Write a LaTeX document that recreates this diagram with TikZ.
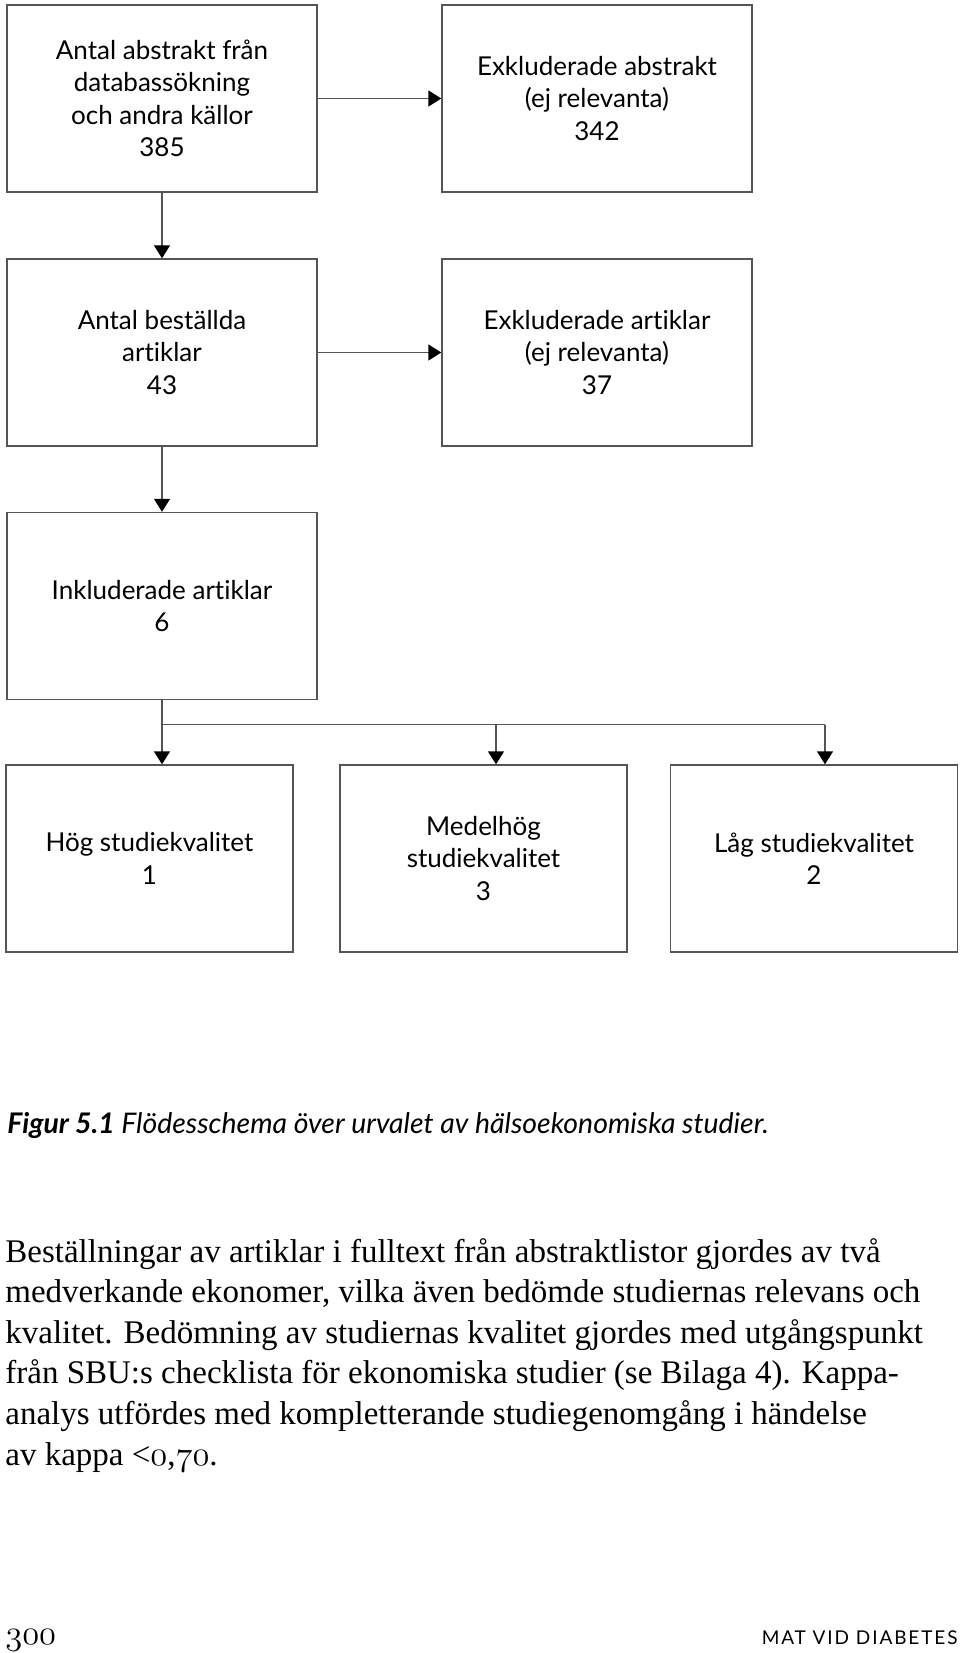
\documentclass[tikz,border=0pt]{standalone}
\usepackage{fontspec}
\setmainfont{Liberation Serif}
\newfontfamily\gillfont{Lato}[Ligatures={TeX,NoCommon}]
\newcommand\osf[1]{{\usefont{OML}{cmm}{m}{it}#1}}
\usetikzlibrary{arrows.meta}
\definecolor{framegray}{HTML}{555555}
\tikzstyle{wire} = [draw=framegray, line width=0.7pt]
\tikzstyle{link} = [wire, -{Triangle[length=6.5pt,width=8pt,color=black]}]

\begin{document}
\begin{tikzpicture}
 [x=0.5pt, y=-0.5pt,
  bigbox/.style={draw=framegray, line width=0.7pt, minimum width=155pt, minimum height=93.5pt,
    align=center, inner sep=0pt, font=\gillfont\fontsize{13}{16.25}\selectfont},
  smallbox/.style={bigbox, minimum width=143.5pt},
  bodyline/.style={anchor=base west, inner sep=0pt, font=\fontsize{16.5}{20}\selectfont}]

  \useasboundingbox (0,0) rectangle (960,1653);

  \node[bigbox] (abs)   at (162,98.5)  {Antal abstrakt från\\databassökning\\och andra källor\\385};
  \node[bigbox] (exabs) at (597,98.5)  {Exkluderade abstrakt\\(ej relevanta)\\342};
  \node[bigbox] (best)  at (162,352.5) {Antal beställda\\artiklar\\43};
  \node[bigbox] (exart) at (597,352.5) {Exkluderade artiklar\\(ej relevanta)\\37};
  \node[bigbox] (inkl)  at (162,606)   {Inkluderade artiklar\\6};
  \node[smallbox] (hog) at (149.5,858.5) {Hög studiekvalitet\\1};
  \node[smallbox] (med) at (483.5,858.5) {Medelhög\\studiekvalitet\\3};
  \node[smallbox] (lag) at (814,858.5)   {Låg studiekvalitet\\2};

  \draw[link] (abs.east) -- (exabs.west);
  \draw[link] (abs) -- (best);
  \draw[link] (best.east) -- (exart.west);
  \draw[link] (best) -- (inkl);

  \coordinate (forkl) at (162,724.5);
  \coordinate (forkm) at (496,724.5);
  \coordinate (forkr) at (825,724.5);
  \draw[wire] (inkl.south) -- (forkl) -- (forkr);
  \foreach \f/\b in {forkl/hog, forkm/med, forkr/lag}
    \draw[link] (\f) -- (\f |- \b.north);

  \node[anchor=base west, inner sep=0pt, font=\gillfont\itshape\fontsize{14.2}{16}\selectfont]
    (caption) at (7,1133) {\bfseries Figur 5.1\mdseries{} Flödesschema över urvalet av hälsoekonomiska studier.};

  \foreach \t [count=\i] in {%
      {Beställningar av artiklar i fulltext från abstraktlistor gjordes av två},
      {medverkande ekonomer, vilka även bedömde studiernas relevans och},
      {kvalitet. Bedömning av studiernas kvalitet gjordes med utgångspunkt},
      {från SBU:s checklista för ekonomiska studier (se Bilaga 4). Kappa-},
      {analys utfördes med kompletterande studiegenomgång i händelse},
      {av kappa <\osf{0},\osf{70}.}}
    \node[bodyline] (line\i) at (5,1262+40.6*\i-40.6) {\t};

  \node[bodyline] (pagenum) at (5,1644) {\osf{300}};
  \node[anchor=base east, inner sep=0pt, font=\gillfont\fontsize{9.5}{11}\selectfont\addfontfeatures{LetterSpace=10}]
    (runhead) at (958,1644) {MAT VID DIABETES};

%  body lines 40.6px apart
\end{tikzpicture}
\end{document}
